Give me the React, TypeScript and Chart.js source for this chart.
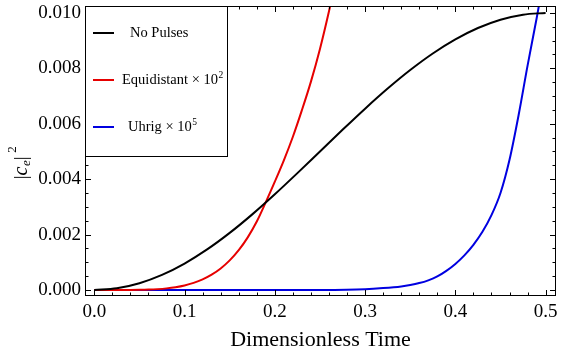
import React, { useEffect, useRef } from "react";
import { Chart, registerables } from "chart.js";

Chart.register(...registerables);

// ---------- data ----------
const NO_PULSES_T = [0, 0.025, 0.05, 0.075, 0.1, 0.125, 0.15, 0.175, 0.2, 0.225, 0.25, 0.275, 0.3, 0.325, 0.35, 0.375, 0.4, 0.425, 0.45, 0.475, 0.5];
const NO_PULSES_V = [0, 0.0000616, 0.000245, 0.000545, 0.000955, 0.001464, 0.002061, 0.00273, 0.003455, 0.004218, 0.005, 0.005782, 0.006545, 0.00727, 0.007939, 0.008536, 0.009045, 0.009455, 0.009755, 0.009938, 0.01];

const EQUI_T = [0, 0.02, 0.04, 0.05, 0.06, 0.07, 0.08, 0.09, 0.1, 0.11, 0.12, 0.13, 0.14, 0.15, 0.16, 0.17, 0.18, 0.19, 0.2, 0.21, 0.22, 0.23, 0.24, 0.25, 0.26, 0.27];
const EQUI_V = [0, 0.0000001, 0.0000024, 0.0000068, 0.0000158, 0.0000321, 0.0000593, 0.000102, 0.000165, 0.000257, 0.000383, 0.000553, 0.000778, 0.001069, 0.001438, 0.0019, 0.00247, 0.00317, 0.00391, 0.00468, 0.00553, 0.00649, 0.00752, 0.0087, 0.01006, 0.01155];

const UHRIG_T = [0, 0.1, 0.2, 0.25, 0.3, 0.32, 0.34, 0.35, 0.36, 0.37, 0.38, 0.39, 0.4, 0.41, 0.42, 0.43, 0.44, 0.45, 0.46, 0.47, 0.48, 0.49, 0.5];
const UHRIG_V = [0, 0, 0, 0.000003, 0.00003, 0.00007, 0.00013, 0.00018, 0.00025, 0.00035, 0.00049, 0.00069, 0.00094, 0.00125, 0.00163, 0.0021, 0.0027, 0.0035, 0.0047, 0.0063, 0.0081, 0.0098, 0.0116];

const SERIES_LABELS = ["No Pulses", "Equidistant \u00d7 10", "Uhrig \u00d7 10"];
const SERIES_EXPONENTS = ["", "2", "5"];
const SERIES_COLORS = ["#000000", "#e60000", "#0000e0"];

const X_MIN = -0.0103;
const X_MAX = 0.5115;
const Y_MIN = -0.000216;
const Y_MAX = 0.01025;
const X_MAJOR = [0, 0.1, 0.2, 0.3, 0.4, 0.5];
const Y_MAJOR = [0, 0.002, 0.004, 0.006, 0.008, 0.01];
const X_MINOR_STEP = 0.02;
const Y_MINOR_STEP = 0.0005;
const X_TITLE = "Dimensionless Time";

const SERIF = "'Liberation Serif', 'Times New Roman', serif";

const framePlugin = {
  id: "frameTicks",
  afterDatasetsDraw(chart: any) {
    const { ctx, chartArea } = chart;
    const xs = chart.scales.x;
    const ys = chart.scales.y;
    const { left, right, top, bottom } = chartArea;
    ctx.save();
    ctx.strokeStyle = "#000";
    ctx.lineWidth = 1;
    ctx.strokeRect(left + 0.5, top + 0.5, right - left - 1, bottom - top - 1);
    const major = 6;
    const minor = 3.5;
    ctx.beginPath();
    const xTick = (v: number, len: number) => {
      const px = Math.round(xs.getPixelForValue(v)) + 0.5;
      if (px < left || px > right) return;
      ctx.moveTo(px, bottom);
      ctx.lineTo(px, bottom - len);
      ctx.moveTo(px, top);
      ctx.lineTo(px, top + len);
    };
    const yTick = (v: number, len: number) => {
      const py = Math.round(ys.getPixelForValue(v)) + 0.5;
      if (py < top || py > bottom) return;
      ctx.moveTo(left, py);
      ctx.lineTo(left + len, py);
      ctx.moveTo(right, py);
      ctx.lineTo(right - len, py);
    };
    X_MAJOR.forEach((v) => xTick(v, major));
    for (let i = Math.ceil(X_MIN / X_MINOR_STEP); i * X_MINOR_STEP <= X_MAX; i++) {
      const v = i * X_MINOR_STEP;
      if (X_MAJOR.some((m) => Math.abs(m - v) < 1e-9)) continue;
      xTick(v, minor);
    }
    Y_MAJOR.forEach((v) => yTick(v, major));
    for (let i = Math.ceil(Y_MIN / Y_MINOR_STEP); i * Y_MINOR_STEP <= Y_MAX; i++) {
      const v = i * Y_MINOR_STEP;
      if (Y_MAJOR.some((m) => Math.abs(m - v) < 1e-12)) continue;
      yTick(v, minor);
    }
    ctx.stroke();
    ctx.restore();
  },
  afterDraw(chart: any) {
    const { ctx, chartArea } = chart;
    ctx.save();
    // legend box
    const bx = chartArea.left + 0.5;
    const by = chartArea.top + 0.5;
    const bw = 142;
    const bh = 150;
    ctx.fillStyle = "#fff";
    ctx.fillRect(bx, by, bw, bh);
    ctx.strokeStyle = "#000";
    ctx.lineWidth = 1;
    ctx.strokeRect(bx, by, bw, bh);
    const rowsY = [33, 80, 127];
    const textX = [130, 122, 128];
    chart.data.datasets.forEach((ds: any, i: number) => {
      const y = rowsY[i];
      ctx.strokeStyle = ds.borderColor;
      ctx.lineWidth = 2;
      ctx.beginPath();
      ctx.moveTo(93, y);
      ctx.lineTo(114, y);
      ctx.stroke();
      ctx.fillStyle = "#000";
      ctx.textBaseline = "middle";
      ctx.textAlign = "left";
      ctx.font = `14.5px ${SERIF}`;
      const base = SERIES_LABELS[i];
      ctx.fillText(base, textX[i], y);
      const w = ctx.measureText(base).width;
      if (SERIES_EXPONENTS[i]) {
        ctx.font = `9.5px ${SERIF}`;
        ctx.fillText(SERIES_EXPONENTS[i], textX[i] + w + 0.5, y - 5);
      }
    });

    // y-axis title |c_e|^2
    ctx.translate(22, 163);
    ctx.rotate(-Math.PI / 2);
    ctx.fillStyle = "#000";
    ctx.textBaseline = "middle";
    ctx.textAlign = "left";
    const parts = [
      { t: "|", f: `19px ${SERIF}`, dy: 0 },
      { t: "c", f: `italic 20px ${SERIF}`, dy: 0 },
      { t: "e", f: `italic 13px ${SERIF}`, dy: 5 },
      { t: "|", f: `19px ${SERIF}`, dy: 0 },
      { t: "\u2009", f: `19px ${SERIF}`, dy: 0 },
      { t: "2", f: `13px ${SERIF}`, dy: -9 },
    ];
    let total = 0;
    const widths = parts.map((p) => {
      ctx.font = p.f;
      const w = ctx.measureText(p.t).width;
      total += w;
      return w;
    });
    let cx = -total / 2;
    parts.forEach((p, i) => {
      ctx.font = p.f;
      ctx.fillText(p.t, cx, p.dy);
      cx += widths[i] + (i === 1 ? 0.5 : 0);
    });
    ctx.restore();
  },
};

export default function App() {
  const ref = useRef<HTMLCanvasElement | null>(null);
  useEffect(() => {
    if (!ref.current) return;
    const mk = (ts: number[], vs: number[]) => ts.map((t, i) => ({ x: t, y: vs[i] }));
    const chart = new Chart(ref.current, {
      type: "line",
      data: {
        datasets: [
          { label: "No Pulses", data: mk(NO_PULSES_T, NO_PULSES_V), borderColor: SERIES_COLORS[0] },
          { label: "Equidistant \u00d7 10\u00b2", data: mk(EQUI_T, EQUI_V), borderColor: SERIES_COLORS[1] },
          { label: "Uhrig \u00d7 10\u2075", data: mk(UHRIG_T, UHRIG_V), borderColor: SERIES_COLORS[2] },
        ].map((d) => ({
          ...d,
          borderWidth: 2,
          pointRadius: 0,
          fill: false,
          cubicInterpolationMode: "monotone" as const,
        })),
      },
      options: {
        animation: false,
        responsive: false,
        layout: { padding: { top: 6, right: 20, left: 0, bottom: 0 } },
        plugins: { legend: { display: false }, tooltip: { enabled: false } },
        scales: {
          x: {
            type: "linear",
            min: X_MIN,
            max: X_MAX,
            grid: { display: false, drawTicks: false },
            border: { display: false },
            afterBuildTicks: (s: any) => {
              s.ticks = X_MAJOR.map((v) => ({ value: v }));
            },
            ticks: {
              color: "#000",
              font: { family: SERIF, size: 19 },
              padding: 5,
              maxRotation: 0,
              callback: (v: any) => Number(v).toFixed(1),
            },
            title: {
              display: true,
              text: X_TITLE,
              color: "#000",
              font: { family: SERIF, size: 22 },
              padding: { top: 0, bottom: 5 },
            },
            afterFit: (s: any) => {
              s.height = 62;
              s.paddingLeft = 0;
              s.paddingRight = 0;
            },
          },
          y: {
            type: "linear",
            min: Y_MIN,
            max: Y_MAX,
            grid: { display: false, drawTicks: false },
            border: { display: false },
            afterBuildTicks: (s: any) => {
              s.ticks = Y_MAJOR.map((v) => ({ value: v }));
            },
            ticks: {
              color: "#000",
              font: { family: SERIF, size: 19 },
              padding: 4,
              callback: (v: any) => Number(v).toFixed(3),
            },
            afterFit: (s: any) => {
              s.width = 85;
              s.paddingTop = 0;
              s.paddingBottom = 0;
            },
          },
        },
      },
      plugins: [framePlugin],
    } as any);
    return () => chart.destroy();
  }, []);
  return (
    <div style={{ position: "fixed", left: 0, top: 0, width: 576, height: 358, background: "#fff" }}>
      <canvas ref={ref} width={576} height={358} style={{ display: "block" }} />
    </div>
  );
}
